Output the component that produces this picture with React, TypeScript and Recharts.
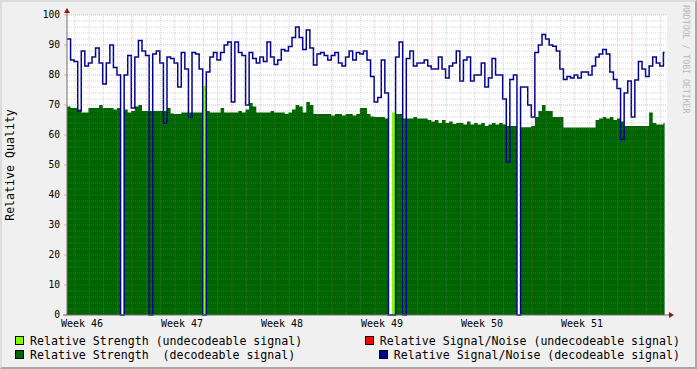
import { ComposedChart, Area, Line, XAxis, YAxis, ReferenceLine } from "recharts";

// one sample every 6 hours, 6 weeks shown
const STEP_HOURS = 6;
const END_HOUR = 1004;

const snr = [
  92, 85, 84.5, 68, 88, 83, 84, 86, 89, 84, 77, 84, 90, 82.5, 80, 0, 80, 86.5, 69, 86,
  91.5, 88, 86.5, 0, 87, 88, 84, 64, 86, 85.5, 84, 76, 87.5, 82, 66, 87.5, 87, 82, 0, 81,
  86, 87.5, 85, 87.5, 90, 91, 71, 91, 87.5, 86.5, 70, 87.5, 85.5, 84, 86, 84.5, 91, 86, 83.5, 85,
  88.5, 88, 89.5, 92.5, 96, 92.5, 88.5, 95, 89, 83.3, 87, 87.5, 86.5, 85, 86.5, 87.5, 84, 83, 86, 88,
  85, 87.5, 87, 88, 85, 79.5, 71, 72.5, 85, 74, 0, 0, 86, 91, 0, 85.5, 88, 83, 84, 84,
  85, 83, 82, 82, 86, 82, 79, 83, 84, 88, 78, 85, 86, 78, 80, 80, 84, 76, 79, 85.5,
  80, 80, 72, 51, 78.5, 80, 0, 76, 76, 70, 66, 87.5, 90, 93.5, 92, 90, 89.6, 88, 82, 78.5,
  79.5, 79, 80, 79, 81, 81, 80, 83, 86, 87, 88.5, 87, 81, 78.5, 75.5, 58.5, 74, 78, 66, 78.3,
  84.5, 82, 79.5, 83, 86, 84, 83, 87.5,
];

const strength = [
  69.5, 69, 69, 68.5, 67.5, 67.5, 69, 69, 69, 70, 69, 69, 69, 68.5, 69, 0, 68.5, 67.5, 68, 69.5,
  70, 68, 68, 68, 68, 68, 68, 68, 69, 67.2, 67, 67, 67.5, 67.5, 67.5, 67.5, 67.5, 67.5, 0, 68,
  67.5, 67.5, 67.5, 69, 67.5, 67.5, 67.5, 67.5, 68, 67.5, 68.5, 70.7, 69.5, 67.5, 67.5, 67.5, 67.5, 68, 67.5, 67.5,
  67.5, 67, 67.5, 68.5, 70, 69.5, 67.5, 71, 70, 67, 67, 67, 67, 67, 66.5, 67, 67, 66.5, 67, 67,
  66.5, 67, 69, 69, 67, 66.2, 66, 66, 66, 65.5, 0, 0, 67, 67, 65.5, 65.5, 65.5, 66, 65.5, 65.5,
  65.5, 65, 64.5, 65, 64, 65, 64, 64.5, 63.7, 64, 64, 63.5, 64.5, 63.5, 64, 63.5, 64, 63, 63.5, 64,
  63.5, 64, 63.5, 63, 63, 63, 0, 62.6, 62.6, 62.6, 63, 66, 68, 70, 68, 68, 66, 66, 66, 62.5,
  62.5, 62.5, 62.5, 62.5, 62.5, 62.5, 62.5, 62.5, 65, 65.5, 66, 65.5, 66, 65, 65.5, 64.5, 63, 63, 63, 63,
  63, 63, 63, 67.5, 64, 63.5, 63.5, 64,
];

// samples where the signal could not be decoded
const weakIndex = [38, 91];
const weakValue = [76.4, 67.5];

const yTicks = [0, 10, 20, 30, 40, 50, 60, 70, 80, 90, 100];
const weekLabels = ["Week 46", "Week 47", "Week 48", "Week 49", "Week 50", "Week 51"];
const weekCenters = [25.2, 193.2, 361.2, 529.2, 697.2, 865.2];
const weekStarts = [109.2, 277.2, 445.2, 613.2, 781.2, 949.2];

const data = snr.map((v, i) => {
  const w = weakIndex.indexOf(i);
  return { t: i * STEP_HOURS, snr: v, strength: strength[i], weak: w >= 0 ? weakValue[w] : 0 };
});
data.push({ ...data[data.length - 1], t: END_HOUR });

const dayLines: number[] = [];
for (let h = 13.2; h < 1008; h += 24) {
  if (!weekStarts.some((w) => Math.abs(w - h) < 1)) dayLines.push(h);
}
const minorY: number[] = [];
for (let v = 2; v < 100; v += 2) if (v % 10 !== 0) minorY.push(v);

const FONT = "'DejaVu Sans Mono', monospace";
const MINOR = "rgba(140,140,140,0.35)";
const MAJOR = "rgba(220,60,60,0.4)";

export default function App() {
  return (
    <div style={{ position: "absolute", left: 0, top: 0, width: 697, height: 369 }}>
      <div
        style={{
          position: "absolute", left: 0, top: 0, width: 697, height: 369, boxSizing: "border-box",
          background: "#f0f0f0", borderTop: "2px solid #dcdcdc", borderLeft: "2px solid #dcdcdc",
          borderRight: "2px solid #a8a8a8", borderBottom: "2px solid #a8a8a8",
        }}
      />
      <div style={{ position: "absolute", left: 0, top: 0 }}>
        <ComposedChart width={697} height={369} data={data} margin={{ top: 15, right: 30, left: 17, bottom: 34 }}>
          <rect x={67} y={15} width={600} height={300} fill="#fff" />
          <XAxis
            type="number" dataKey="t" domain={[0, 1008]} ticks={weekCenters}
            tickFormatter={(_v: number, i: number) => weekLabels[i]}
            axisLine={false} tickLine={false} tickSize={0} tickMargin={5} height={20}
            tick={{ fontFamily: FONT, fontSize: 10, fill: "#000" }} interval={0}
          />
          <YAxis
            domain={[0, 100]} ticks={yTicks} width={50} axisLine={false}
            tickLine={{ stroke: MAJOR }} tickSize={3} tickMargin={4}
            tick={{ fontFamily: FONT, fontSize: 9.6, fill: "#000" }} interval={0}
          />
          <Area type="stepAfter" dataKey="strength" fill="#006400" fillOpacity={1} stroke="none" isAnimationActive={false} />
          <Area type="stepAfter" dataKey="weak" fill="#80ff00" fillOpacity={1} stroke="none" isAnimationActive={false} />
          <Line type="stepAfter" dataKey="snr" stroke="#00008c" strokeWidth={1.5} dot={false} isAnimationActive={false} />
          {minorY.map((v) => (
            <ReferenceLine key={"my" + v} y={v} stroke={MINOR} strokeDasharray="1 1" />
          ))}
          {dayLines.map((h) => (
            <ReferenceLine key={"mx" + h} x={h} stroke={MINOR} strokeDasharray="1 1" />
          ))}
          {yTicks.slice(1).map((v) => (
            <ReferenceLine key={"My" + v} y={v} stroke={MAJOR} strokeDasharray="1 1" />
          ))}
          {weekStarts.map((h) => (
            <ReferenceLine key={"Mx" + h} x={h} stroke={MAJOR} strokeDasharray="1 1" />
          ))}
        </ComposedChart>
      </div>
      <svg width={697} height={369} style={{ position: "absolute", left: 0, top: 0, pointerEvents: "none" }}>
        <line x1={67} y1={315} x2={67} y2={12} stroke="#707070" />
        <line x1={63} y1={315} x2={670} y2={315} stroke="#707070" />
        <polygon points="64,13 70,13 67,8" fill="#8b1a1a" />
        <polygon points="669,312 669,318 674,315" fill="#8b1a1a" />
        <text x={14} y={165} transform="rotate(-90 14 165)" textAnchor="middle" fontFamily={FONT} fontSize={11.6}>
          Relative Quality
        </text>
        <text x={683} y={5} transform="rotate(90 683 5)" fontFamily={FONT} fontSize={8.2} fill="#b8b8b8">
          RRDTOOL / TOBI OETIKER
        </text>
        <rect x={15.5} y={336.5} width={8} height={8} fill="#80ff00" stroke="#000" />
        <text x={30} y={345} fontFamily={FONT} fontSize={11.6} xmlSpace="preserve">Relative Strength (undecodeable signal)</text>
        <rect x={15.5} y={350.5} width={8} height={8} fill="#006400" stroke="#000" />
        <text x={30} y={359} fontFamily={FONT} fontSize={11.6} xmlSpace="preserve">Relative Strength  (decodeable signal)</text>
        <rect x={365.5} y={336.5} width={8} height={8} fill="#ff0000" stroke="#000" />
        <text x={680} y={345} textAnchor="end" fontFamily={FONT} fontSize={11.6}>Relative Signal/Noise (undecodeable signal)</text>
        <rect x={379.5} y={350.5} width={8} height={8} fill="#00008c" stroke="#000" />
        <text x={680} y={359} textAnchor="end" fontFamily={FONT} fontSize={11.6}>Relative Signal/Noise (decodeable signal)</text>
      </svg>
    </div>
  );
}
